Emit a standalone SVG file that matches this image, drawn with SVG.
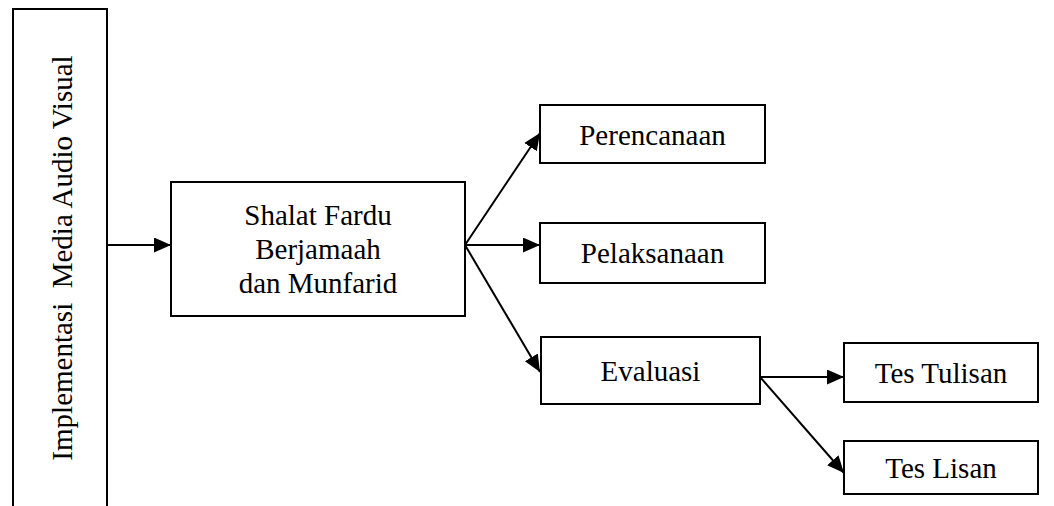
<svg xmlns="http://www.w3.org/2000/svg" width="1054" height="506" viewBox="0 0 1054 506">
<style>
.box{fill:#fff;stroke:#000;stroke-width:2}
.t{font-family:"Liberation Serif","Times New Roman",serif;font-size:29px;fill:#000;text-anchor:middle}
.c{stroke:#000;stroke-width:2;fill:none;marker-end:url(#ah)}
</style>
<defs>
<marker id="ah" markerUnits="userSpaceOnUse" markerWidth="18" markerHeight="16" refX="17" refY="7.5" orient="auto">
<path d="M0,0 L17,7.5 L0,15 z" fill="#000"/>
</marker>
</defs>
<rect width="1054" height="506" fill="#fff"/>
<g id="connectors">
<line class="c" x1="107" y1="245" x2="171" y2="245"/>
<line class="c" x1="465" y1="245" x2="540" y2="133"/>
<line class="c" x1="465" y1="245" x2="540" y2="245"/>
<line class="c" x1="465" y1="245" x2="540" y2="372"/>
<line class="c" x1="760" y1="377" x2="844" y2="377"/>
<line class="c" x1="760" y1="377" x2="844" y2="473"/>
</g>
<g id="implementasi">
<rect class="box" x="13" y="9" width="94" height="510"/>
<text class="t" transform="translate(72,258) rotate(-90)" xml:space="preserve">Implementasi  Media Audio Visual</text>
</g>
<g id="shalat">
<rect class="box" x="171" y="182" width="294" height="134"/>
<text class="t" x="318" y="225">Shalat Fardu</text>
<text class="t" x="318" y="259">Berjamaah</text>
<text class="t" x="318" y="293">dan Munfarid</text>
</g>
<g id="perencanaan">
<rect class="box" x="540" y="105" width="225" height="58"/>
<text class="t" x="652.5" y="145">Perencanaan</text>
</g>
<g id="pelaksanaan">
<rect class="box" x="540" y="223" width="225" height="60"/>
<text class="t" x="652.5" y="263">Pelaksanaan</text>
</g>
<g id="evaluasi">
<rect class="box" x="541" y="337" width="219" height="67"/>
<text class="t" x="650.5" y="381">Evaluasi</text>
</g>
<g id="tes-tulisan">
<rect class="box" x="844" y="343" width="194" height="59"/>
<text class="t" x="941" y="383">Tes Tulisan</text>
</g>
<g id="tes-lisan">
<rect class="box" x="844" y="441" width="194" height="53"/>
<text class="t" x="941" y="478">Tes Lisan</text>
</g>
</svg>
